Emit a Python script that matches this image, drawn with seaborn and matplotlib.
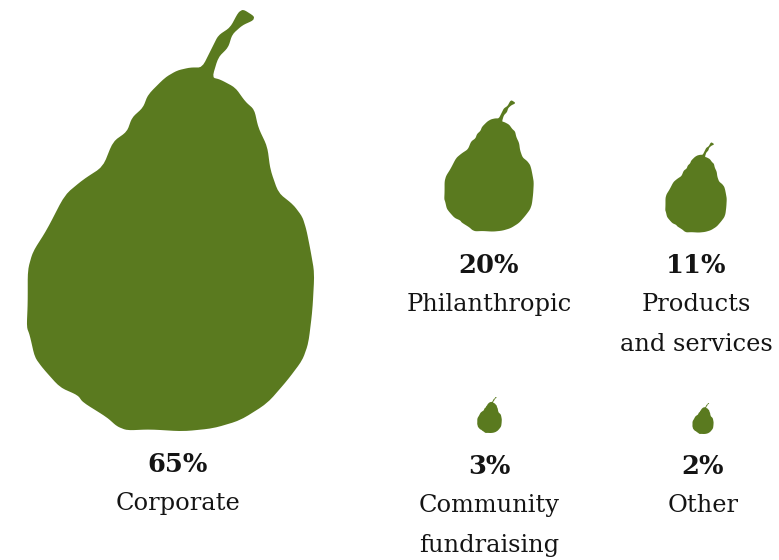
import numpy as np
import pandas as pd
import matplotlib
matplotlib.use("Agg")
import matplotlib.pyplot as plt
from matplotlib.path import Path
from matplotlib.markers import MarkerStyle
import seaborn as sns

# Funding sources and their share of the total
categories = ["Corporate", "Philanthropic", "Products\nand services",
              "Community\nfundraising", "Other"]
shares = [65, 20, 11, 3, 2]

# Layout of each pear on a 779x560 canvas
pear_x = [170.5, 489, 696, 489.5, 703]
pear_y = [220.5, 166, 187.5, 415, 418.5]
pear_height_px = {65: 421, 20: 131, 11: 90, 3: 36, 2: 31}
label_x = [178, 489, 696, 489, 703]
pct_baseline = [472, 273, 273, 474, 474]
label_baseline = [510, 311, 311, 512, 512]
LINE_STEP = 40

GREEN = "#5a7a1f"
INK = "#141414"
DPI = 100

# Pear silhouette, traced clockwise from the foot of the stem
outline = np.array([
    (202, 68), (212, 48), (218, 36), (230, 28), (238, 13), (243, 10),
    (254, 17), (253, 21), (242, 26), (232, 35), (228, 48), (218, 58),
    (212, 78), (220, 80), (235, 88), (245, 102), (254, 110), (258, 128),
    (267, 147), (270, 170), (278, 193), (293, 205), (302, 217), (306, 230),
    (310, 250), (314, 273), (312, 310), (308, 343), (302, 360), (287, 380),
    (267, 403), (240, 420), (213, 428), (183, 431), (150, 429), (127, 430),
    (117, 426), (107, 417), (83, 402), (78, 395), (60, 387), (43, 368),
    (35, 357), (30, 335), (27, 327), (28, 303), (28, 270), (33, 252),
    (47, 230), (65, 195), (83, 180), (103, 167), (113, 142), (127, 132),
    (132, 118), (143, 108), (148, 95), (165, 78), (177, 71), (190, 68),
], dtype=float)


def smooth(points, rounds=2, cut=0.18):
    """Corner cutting on a closed outline, keeping the silhouette knobbly."""
    for _ in range(rounds):
        following = np.roll(points, -1, axis=0)
        points = np.column_stack([(1 - cut) * points + cut * following,
                                  cut * points + (1 - cut) * following]).reshape(-1, 2)
    return points


def pear_marker(points):
    pts = smooth(points)
    mid = (pts.max(axis=0) + pts.min(axis=0)) / 2
    pts = (pts - mid) * np.array([1, -1])
    verts = np.vstack([pts, pts[0]])
    codes = [Path.MOVETO] + [Path.LINETO] * (len(pts) - 1) + [Path.CLOSEPOLY]
    return MarkerStyle(Path(verts, codes))


df = pd.DataFrame({"category": categories, "share": shares,
                   "x": pear_x, "y": pear_y})

sns.set_theme(style="white")
plt.rcParams["font.family"] = ["DejaVu Serif"]

fig = plt.figure(figsize=(7.79, 5.60), dpi=DPI)
ax = fig.add_axes([0, 0, 1, 1])

# Marker size is the squared pear height in points
sizes = {k: (h * 72 / DPI) ** 2 for k, h in pear_height_px.items()}
sns.scatterplot(data=df, x="x", y="y", size="share", sizes=sizes,
                marker=pear_marker(outline), color=GREEN, linewidth=0,
                legend=False, ax=ax, clip_on=False)

ax.set_xlim(0, 779)
ax.set_ylim(560, 0)
ax.axis("off")

for share, cat, lx, pb, lb in zip(shares, categories, label_x, pct_baseline, label_baseline):
    ax.text(lx, pb, f"{share}%", ha="center", va="baseline", fontsize=18.5,
            fontweight="bold", color=INK)
    for i, line in enumerate(cat.split("\n")):
        ax.text(lx, lb + i * LINE_STEP, line, ha="center", va="baseline",
                fontsize=17.4, color=INK)

fig.savefig("out.png", dpi=DPI, facecolor="white")
